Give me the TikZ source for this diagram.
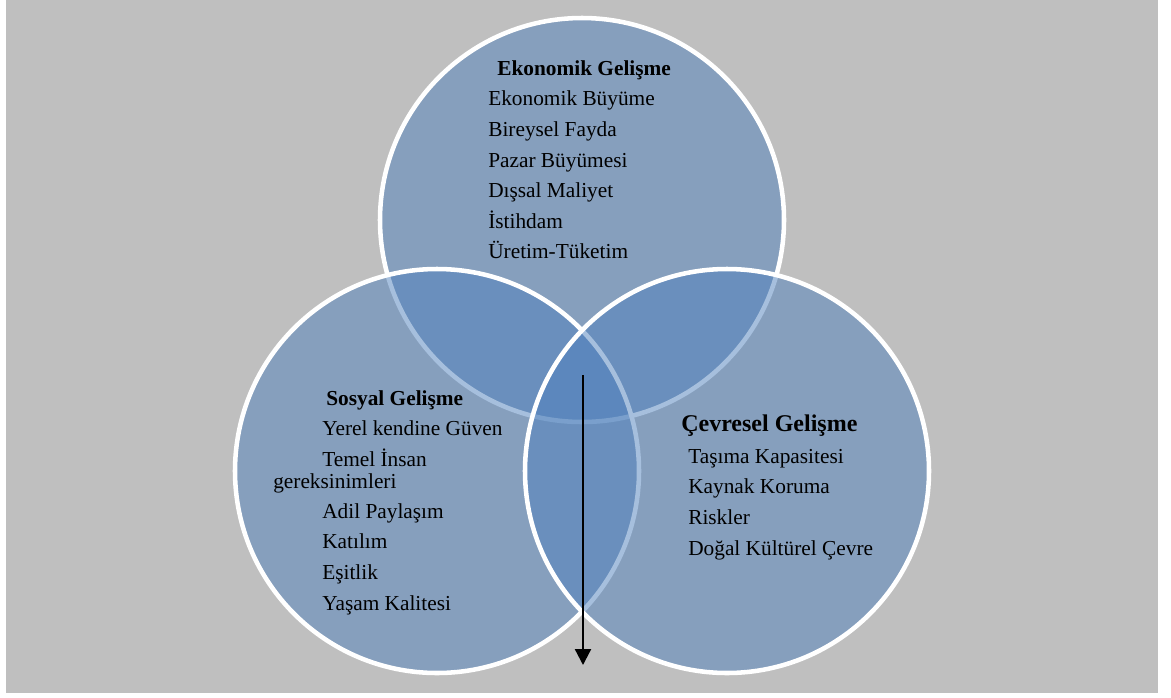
\documentclass[tikz,border=0pt]{standalone}
\usepackage{fontspec}
\setmainfont{Liberation Serif}
\usetikzlibrary{arrows.meta}
\definecolor{vennblue}{RGB}{79,129,189}
\definecolor{panelgray}{RGB}{191,191,191}
\tikzset{
  venn/.style={fill=vennblue,fill opacity=0.5,draw=white,line width=3.4pt},
  item/.style={anchor=base west,inner sep=0pt,font=\fontsize{16}{18}\selectfont},
  title/.style={item,font=\fontsize{16}{18}\selectfont\bfseries}
}
\begin{document}
\begin{tikzpicture}[x=0.75pt,y=-0.75pt]
        \useasboundingbox (0,0) rectangle (1171,697);
        \fill[white] (0,0) rectangle (1171,697);
        \fill[panelgray] (6,0) rectangle (1158,693);

        % the three circles, top first
        \draw[venn] (582,220) circle (202);
        \draw[venn] (437,471) circle (202);
        \draw[venn] (727,471) circle (202);

        % Economic development
        \node[title] (eko) at (497,75) {Ekonomik Gelişme};
        \node[item] (eko1) at (488,105) {Ekonomik Büyüme};
        \node[item] (eko2) at (488,136) {Bireysel Fayda};
        \node[item] (eko3) at (488,167) {Pazar Büyümesi};
        \node[item] (eko4) at (488,197) {Dışsal Maliyet};
        \node[item] (eko5) at (488,228) {İstihdam};
        \node[item] (eko6) at (488,258) {Üretim-Tüketim};

        % Social development
        \node[title] (sos) at (326,405) {Sosyal Gelişme};
        \node[item] (sos1) at (322,435) {Yerel kendine Güven};
        \node[item] (sos2) at (322,466) {Temel İnsan};
        \node[item] (sos2b) at (273,488) {gereksinimleri};
        \node[item] (sos3) at (322,518) {Adil Paylaşım};
        \node[item] (sos4) at (322,548) {Katılım};
        \node[item] (sos5) at (322,579) {Eşitlik};
        \node[item] (sos6) at (322,610) {Yaşam Kalitesi};

        % Environmental development
        \node[title,font=\fontsize{18}{20}\selectfont\bfseries] (cev) at (681,431) {Çevresel Gelişme};
        \node[item] (cev1) at (688,463) {Taşıma Kapasitesi};
        \node[item] (cev2) at (688,493) {Kaynak Koruma};
        \node[item] (cev3) at (688,524) {Riskler};
        \node[item] (cev4) at (688,555) {Doğal Kültürel Çevre};

        % arrow through the middle
        \coordinate (arrowtop) at (583,375);
        \coordinate (arrowtip) at (583,665);
        \draw[-{Triangle[length=12pt,width=12pt]},line width=1.7pt] (arrowtop) -- (arrowtip);
\end{tikzpicture}
\end{document}
